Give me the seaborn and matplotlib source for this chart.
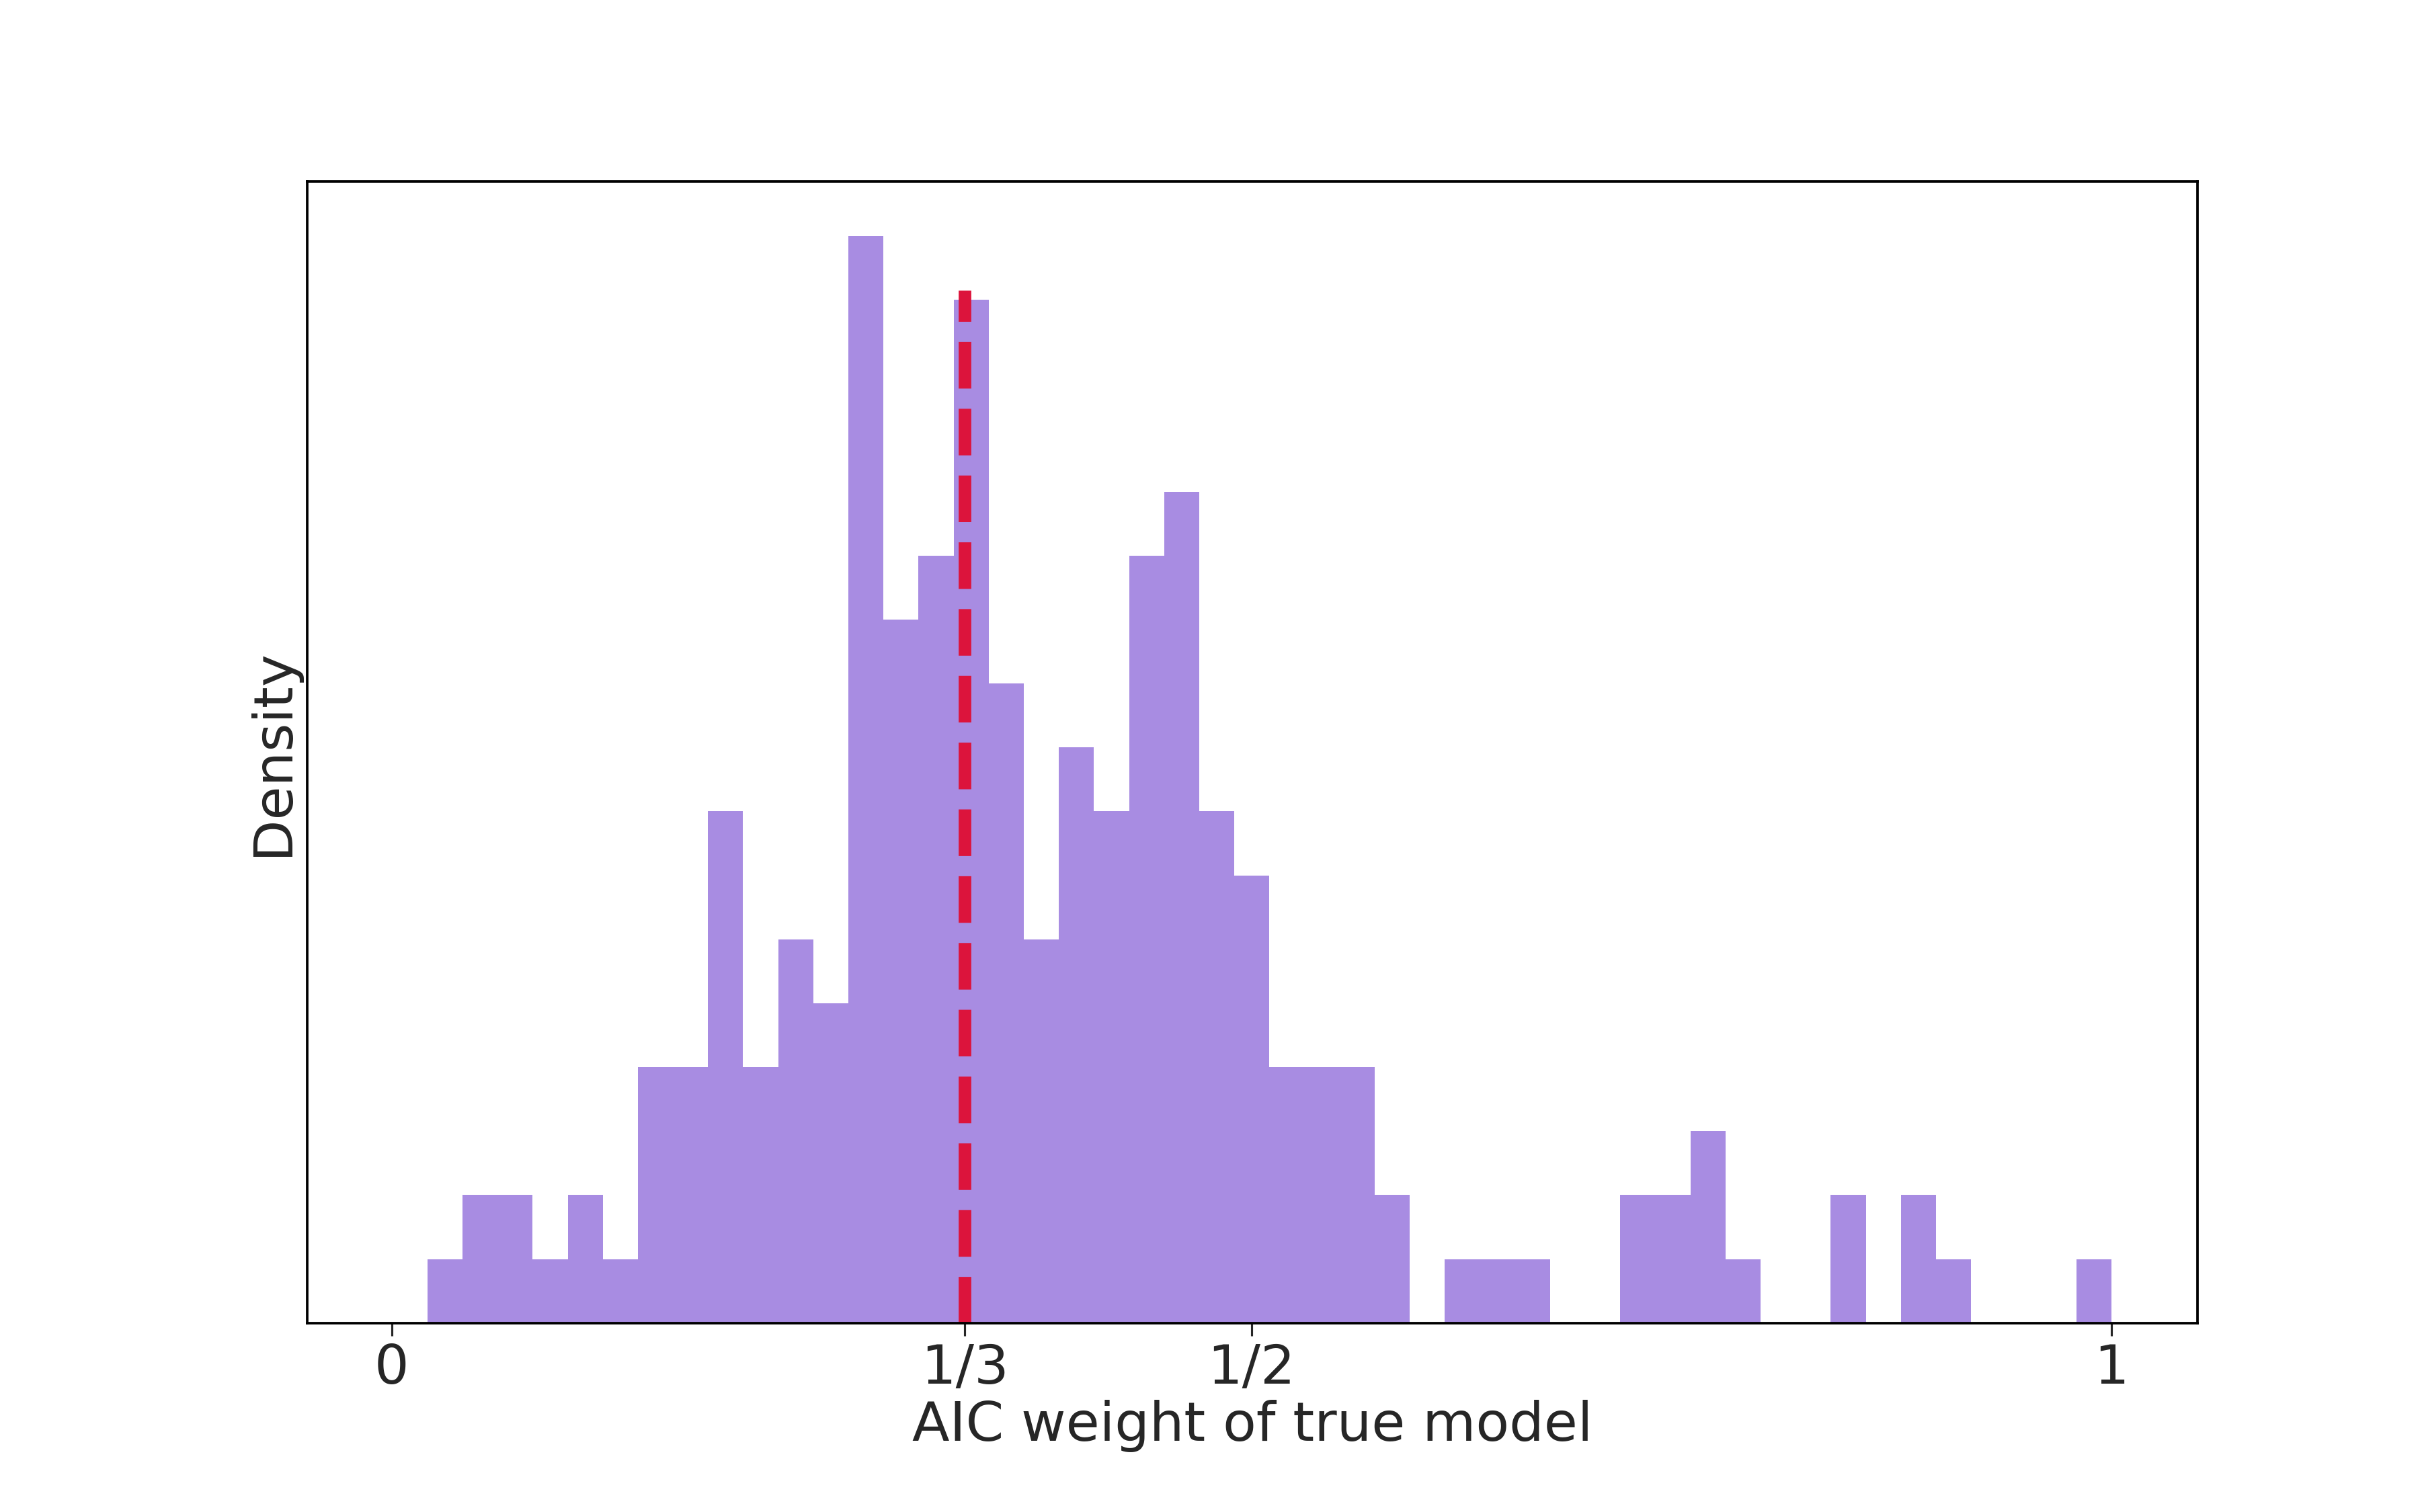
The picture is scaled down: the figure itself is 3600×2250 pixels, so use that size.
import numpy as np
import pandas as pd
import seaborn as sns
import matplotlib.pyplot as plt

# Contagens por classe do histograma (48 classes entre ~0.0208 e 1)
contagens = [1, 2, 2, 1, 2, 1, 4, 4, 8, 4, 6, 5, 17, 11, 12, 16, 10, 6, 9, 8,
             12, 13, 8, 7, 4, 4, 4, 2, 0, 1, 1, 1, 0, 0, 2, 2, 3, 1, 0, 0,
             2, 0, 2, 1, 0, 0, 0, 1]
borda_min = 0.0208
borda_max = 1.0
posicoes_ticks = [0, 1/3, 1/2, 1]
rotulos_ticks = ['0', '1/3', '1/2', '1']
linha_ref = 1/3

bordas = np.linspace(borda_min, borda_max, len(contagens) + 1)
centros = (bordas[:-1] + bordas[1:]) / 2
df = pd.DataFrame({'peso': centros, 'n': contagens})

sns.set_style('white')
fig, ax = plt.subplots(figsize=(16, 10), dpi=225)
fig.subplots_adjust(left=0.127, right=0.908, bottom=0.125, top=0.88)

sns.histplot(data=df, x='peso', weights='n', bins=len(contagens),
             binrange=(borda_min, borda_max), stat='count',
             color='#9370DB', alpha=0.8, edgecolor='none', linewidth=0, ax=ax)
ax.vlines(linha_ref, 0, 16.15, colors='crimson', linestyles='--', linewidth=6)

ax.set_xlim(-0.049, 1.05)
ax.set_ylim(0, 17.85)
ax.set_yticks([])
ax.set_xticks(posicoes_ticks)
ax.set_xticklabels(rotulos_ticks, fontsize=26)
ax.tick_params(axis='x', length=6, width=1, bottom=True)
ax.set_xlabel('AIC weight of true model', fontsize=26, labelpad=2)
ax.set_ylabel('Density', fontsize=26)
for s in ax.spines.values():
    s.set_color('black')
    s.set_linewidth(1.2)

fig.savefig('out.png')
